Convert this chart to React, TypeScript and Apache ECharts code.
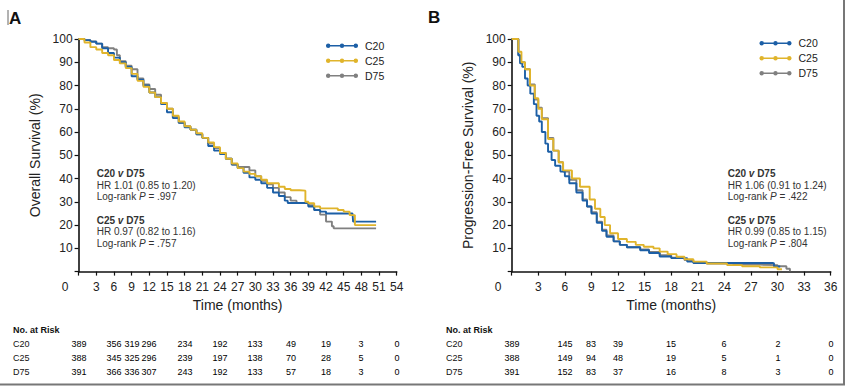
import React, { useEffect, useRef } from "react";
import * as echarts from "echarts";

const FONT = "'Liberation Sans', Arial, Helvetica, sans-serif";
const COLORS = { C20: "#1c5fa6", C25: "#e0b42b", D75: "#808080" };
const groups = ["C20", "C25", "D75"];

// Panel A: overall survival (month, %)
const osC20: number[][] = [
  [0, 100], [1, 99.5], [2, 98.8], [3, 98], [4, 96], [5, 94], [6, 92], [7, 90], [8, 88], [9, 84],
  [10, 82.5], [11, 80], [12, 77], [13, 75], [14, 72], [15, 68.5], [16, 66], [17, 64], [18, 62],
  [19, 61], [20, 59], [21, 57.5], [22, 54], [23, 52], [24, 50.5], [25, 48.5], [26, 46], [27, 44.5],
  [28, 42.5], [29, 40.5], [30, 39.5], [31, 38], [32, 36], [33, 34], [34, 32.5], [35, 30.5],
  [35.5, 29.5], [38, 29.5], [39, 28], [40, 26.5], [41, 25.8], [42, 25], [46.5, 25], [46.6, 21.5],
  [50.5, 21.5],
];
const osC25: number[][] = [
  [0, 100], [1, 98.5], [2, 96.5], [3, 95.5], [4, 94], [5, 93], [6, 91], [7, 89.5], [8, 87.5],
  [9, 85], [10, 82], [11, 79.5], [12, 77], [13, 75], [14, 72.5], [15, 70], [16, 67], [17, 64.5],
  [18, 62.5], [19, 61], [20, 59.5], [21, 57.5], [22, 55.5], [23, 53.5], [24, 51], [25, 48.5],
  [26, 46.5], [27, 44.5], [28, 43], [29, 42], [30, 41], [31, 39.5], [32, 38], [33, 38], [34, 36.5],
  [35, 35.5], [36, 35], [37.5, 34.8], [38.5, 30], [39, 29.4], [40, 28], [41, 27.2], [44, 26.5],
  [45, 25.8], [46, 24.3], [46.9, 20], [50.5, 20],
];
const osD75: number[][] = [
  [0, 100], [1, 99.5], [2, 99], [3, 98], [4, 96.5], [5, 96], [6, 95.5], [6.5, 93], [7, 90.5],
  [8, 88.5], [9, 87], [10, 83], [11, 80.5], [12, 78.5], [13, 76], [14, 72.5], [15, 70], [16, 66.5],
  [17, 64], [18, 62.5], [19, 61], [20, 59], [21, 57.5], [22, 55], [23, 53], [24, 51], [25, 48.5],
  [26, 46], [27, 45], [28, 45], [29, 43.5], [30, 41], [31, 39], [32, 37.5], [33, 36], [34, 34],
  [35, 32], [36, 30.5], [37, 29.5], [38, 29.5], [39, 28.5], [40, 26.5], [41, 24.5], [42, 21.5],
  [43, 19.5], [43.3, 18.6], [50.5, 18.6],
];

// Panel B: progression-free survival (month, %)
const pfsC20: number[][] = [
  [0, 100], [0.6, 100], [0.75, 93], [0.95, 89.5], [1.2, 88], [1.5, 83], [1.8, 80], [2.1, 76.5],
  [2.5, 72], [2.8, 67], [3.1, 64.5], [3.4, 60], [3.8, 55], [4.1, 51.5], [4.5, 48], [4.9, 45.5],
  [5.5, 43], [6, 41], [6.5, 38], [7.3, 34], [8, 30.5], [8.5, 28], [9, 25], [9.6, 21], [10.2, 17.5],
  [10.7, 15], [11.5, 13], [12.2, 11.5], [13, 10.5], [14.5, 9.2], [15.5, 8], [16.7, 6.5], [18, 5.8],
  [19.8, 4.3], [20.5, 3.7], [29.5, 3.5], [29.6, 2.2], [30.3, 2.2],
];
const pfsC25: number[][] = [
  [0, 100], [0.6, 100], [0.75, 94.5], [1.1, 90], [1.5, 87], [2.07, 80], [2.6, 74.5], [3.0, 70],
  [3.4, 65.5], [4.1, 57], [4.7, 52], [5.3, 47], [5.8, 43.5], [6.8, 40], [7.7, 36.5], [8.8, 31],
  [9.4, 27], [10, 23.5], [10.5, 20], [11.1, 16.5], [12, 14], [13, 12.8], [14, 11.5], [14.9, 10.7],
  [16, 10], [16.7, 8.6], [17.6, 7.5], [18.6, 6.4], [19.5, 5.3], [20.5, 4.3], [22, 3.5], [24.3, 2.8],
  [26, 2.3], [28, 1.8], [30, 1.0], [30.5, 1.0],
];
const pfsD75: number[][] = [
  [0, 100], [0.6, 100], [0.75, 93], [0.95, 90], [1.5, 87], [2.07, 80.5], [2.6, 74], [3.0, 70.5],
  [3.4, 66], [4.1, 57.5], [4.7, 52], [5.3, 47], [5.8, 43], [6.5, 39.5], [7.3, 35], [8, 31],
  [8.5, 28], [9, 25.5], [9.6, 21.5], [10.2, 18], [10.7, 15.5], [11.5, 13], [12.2, 11.5], [13, 10.5],
  [14.5, 9.5], [15.5, 8.5], [16.7, 7], [18, 6], [19.5, 5], [20.5, 4], [22, 3.5], [25, 3], [28, 2.8],
  [30, 2.3], [31, 1.2], [31.4, 0.2],
];

// Numbers at risk
const riskMonthsA = [0, 6, 9, 12, 18, 24, 30, 36, 42, 48, 54];
const riskA: Record<string, number[]> = {
  C20: [389, 356, 319, 296, 234, 192, 133, 49, 19, 3, 0],
  C25: [388, 345, 325, 296, 239, 197, 138, 70, 28, 5, 0],
  D75: [391, 366, 336, 307, 243, 192, 133, 57, 18, 3, 0],
};
const riskMonthsB = [0, 6, 9, 12, 18, 24, 30, 36];
const riskB: Record<string, number[]> = {
  C20: [389, 145, 83, 39, 15, 6, 2, 0],
  C25: [388, 149, 94, 48, 19, 5, 1, 0],
  D75: [391, 152, 83, 37, 16, 8, 3, 0],
};

const annA = [
  ["C20", "D75", "HR 1.01 (0.85 to 1.20)", ".997"],
  ["C25", "D75", "HR 0.97 (0.82 to 1.16)", ".757"],
];
const annB = [
  ["C20", "D75", "HR 1.06 (0.91 to 1.24)", ".422"],
  ["C25", "D75", "HR 0.99 (0.85 to 1.15)", ".804"],
];

const LEGEND_ICON =
  "path://M0,1.5H32V2.9H0Z M0,2.2a2.2,2.2 0 1,1 4.4,0a2.2,2.2 0 1,1 -4.4,0Z M13.8,2.2a2.2,2.2 0 1,1 4.4,0a2.2,2.2 0 1,1 -4.4,0Z M27.6,2.2a2.2,2.2 0 1,1 4.4,0a2.2,2.2 0 1,1 -4.4,0Z";

const AXIS_COLOR = "#111";

function mainXAxis(gridIndex: number, max: number) {
  return {
    type: "value",
    gridIndex,
    min: 0,
    max,
    interval: 3,
    name: "Time (months)",
    nameLocation: "middle",
    nameGap: 26,
    nameTextStyle: { fontFamily: FONT, fontSize: 14, color: "#222" },
    axisLine: { show: true, onZero: false, lineStyle: { color: AXIS_COLOR, width: 1.6 } },
    axisTick: { show: true, length: 4, lineStyle: { color: AXIS_COLOR, width: 1.2 } },
    splitLine: { show: false },
    axisLabel: {
      fontFamily: FONT,
      fontSize: 12,
      color: "#222",
      margin: 9,
      formatter: (v: number) => (v === 0 ? "{z|0}" : String(v)),
      rich: { z: { fontFamily: FONT, fontSize: 12, color: "#222", padding: [0, 27, 0, 0] } },
    },
  };
}

function mainYAxis(gridIndex: number, name: string) {
  return {
    type: "value",
    gridIndex,
    min: 0,
    max: 100,
    interval: 10,
    name,
    nameLocation: "middle",
    nameGap: 37,
    nameTextStyle: { fontFamily: FONT, fontSize: 14, color: "#222" },
    axisLine: { show: true, lineStyle: { color: AXIS_COLOR, width: 1.6 } },
    axisTick: { show: true, length: 4, lineStyle: { color: AXIS_COLOR, width: 1.2 } },
    splitLine: { show: false },
    axisLabel: {
      fontFamily: FONT,
      fontSize: 12,
      color: "#222",
      margin: 6,
      formatter: (v: number) => (v === 0 ? "" : String(v)),
    },
  };
}

function riskXAxis(gridIndex: number, max: number) {
  return {
    type: "value",
    gridIndex,
    min: 0,
    max,
    axisLine: { show: false },
    axisTick: { show: false },
    axisLabel: { show: false },
    splitLine: { show: false },
  };
}
function riskYAxis(gridIndex: number) {
  return {
    type: "category",
    gridIndex,
    inverse: true,
    data: groups,
    axisLine: { show: false },
    axisTick: { show: false },
    splitLine: { show: false },
    axisLabel: { fontFamily: FONT, fontSize: 9, color: "#111", align: "left", margin: 65.6 },
  };
}

function kmSeries(name: string, data: number[][], axisIndex: number) {
  return {
    type: "line",
    name,
    xAxisIndex: axisIndex,
    yAxisIndex: axisIndex,
    data,
    step: "end",
    showSymbol: false,
    symbol: "circle",
    color: (COLORS as any)[name],
    lineStyle: { width: 1.9, color: (COLORS as any)[name] },
    itemStyle: { color: (COLORS as any)[name] },
    z: name === "C20" ? 3 : name === "C25" ? 4 : 2,
  };
}

function riskSeries(months: number[], table: Record<string, number[]>, axisIndex: number) {
  const data: number[][] = [];
  groups.forEach((g, gi) => {
    months.forEach((m, i) => data.push([m, gi, table[g][i]]));
  });
  return {
    type: "custom",
    name: "risk" + axisIndex,
    xAxisIndex: axisIndex,
    yAxisIndex: axisIndex,
    silent: true,
    data,
    renderItem: (params: any, api: any) => {
      const p = api.coord([api.value(0), api.value(1)]);
      return {
        type: "text",
        x: Math.round(p[0]),
        y: Math.round(p[1]),
        style: {
          text: String(api.value(2)),
          fontFamily: FONT,
          fontSize: 9,
          fill: "#000",
          align: "center",
          verticalAlign: "middle",
        },
      };
    },
  };
}

function annotation(left: number, top: number, a: string[]) {
  return {
    type: "text",
    left,
    top,
    style: {
      text: `{b|${a[0]} }{bi|v}{b| ${a[1]}}\n{n|${a[2]}}\n{n|Log-rank }{i|P}{n| = ${a[3]}}`,
      fontFamily: FONT,
      fontSize: 10,
      lineHeight: 11.7,
      fill: "#333",
      rich: {
        b: { fontFamily: FONT, fontSize: 10, fontWeight: "bold", color: "#222", lineHeight: 11.7 },
        bi: { fontFamily: FONT, fontSize: 10, fontWeight: "bold", fontStyle: "italic", color: "#222", lineHeight: 11.7 },
        n: { fontFamily: FONT, fontSize: 10, color: "#333", lineHeight: 11.7 },
        i: { fontFamily: FONT, fontSize: 10, fontStyle: "italic", color: "#333", lineHeight: 11.7 },
      },
    },
  };
}

function legend(left: number, top: number) {
  return {
    orient: "vertical",
    left,
    top,
    padding: 0,
    data: groups,
    icon: LEGEND_ICON,
    itemWidth: 32,
    itemHeight: 4.4,
    itemGap: 3,
    selectedMode: false,
    textStyle: { fontFamily: FONT, fontSize: 10.5, color: "#222", lineHeight: 12, padding: [0, 0, 0, 2] },
  };
}

export default function App() {
  const ref = useRef<HTMLDivElement>(null);
  useEffect(() => {
    document.body.style.margin = "0";
    if (!ref.current) return;
    const chart = echarts.init(ref.current, undefined, { renderer: "svg" });
    const option: any = {
      animation: false,
      backgroundColor: "#ffffff",
      grid: [
        { left: 78.6, top: 39, width: 318.1, height: 232.6 },
        { left: 511.7, top: 39, width: 319, height: 232.6 },
        { left: 78.6, top: 337.3, width: 318.1, height: 42 },
        { left: 511.7, top: 337.3, width: 319, height: 42 },
      ],
      xAxis: [mainXAxis(0, 54), mainXAxis(1, 36), riskXAxis(2, 54), riskXAxis(3, 36)],
      yAxis: [
        mainYAxis(0, "Overall Survival (%)"),
        mainYAxis(1, "Progression-Free Survival (%)"),
        riskYAxis(2),
        riskYAxis(3),
      ],
      legend: [legend(326, 39.7), legend(759.5, 37.3)],
      series: [
        kmSeries("D75", osD75, 0),
        kmSeries("C20", osC20, 0),
        kmSeries("C25", osC25, 0),
        kmSeries("D75", pfsD75, 1),
        kmSeries("C20", pfsC20, 1),
        kmSeries("C25", pfsC25, 1),
        riskSeries(riskMonthsA, riskA, 2),
        riskSeries(riskMonthsB, riskB, 3),
      ],
      graphic: [
        { type: "text", left: 9, top: 10, style: { text: "A", fontFamily: FONT, fontSize: 17, fontWeight: "bold", fill: "#111" } },
        { type: "text", left: 428, top: 9, style: { text: "B", fontFamily: FONT, fontSize: 17, fontWeight: "bold", fill: "#111" } },
        { type: "line", shape: { x1: 8, y1: 10, x2: 8, y2: 25 }, style: { stroke: "#666", lineWidth: 1 } },
        annotation(96.7, 167.5, annA[0]),
        annotation(96.7, 214.2, annA[1]),
        annotation(727.7, 167.5, annB[0]),
        annotation(727.7, 214.2, annB[1]),
        { type: "text", left: 13, top: 325, style: { text: "No. at Risk", fontFamily: FONT, fontSize: 9, fontWeight: "bold", fill: "#111" } },
        { type: "text", left: 446, top: 325, style: { text: "No. at Risk", fontFamily: FONT, fontSize: 9, fontWeight: "bold", fill: "#111" } },
        { type: "line", shape: { x1: 844, y1: 0, x2: 844, y2: 385 }, style: { stroke: "#777", lineWidth: 2 } },
        { type: "line", shape: { x1: 0, y1: 384.5, x2: 845, y2: 384.5 }, style: { stroke: "#777", lineWidth: 2 } },
      ],
    };
    chart.setOption(option);
    return () => chart.dispose();
  }, []);
  return <div ref={ref} style={{ width: 850, height: 389 }} />;
}
